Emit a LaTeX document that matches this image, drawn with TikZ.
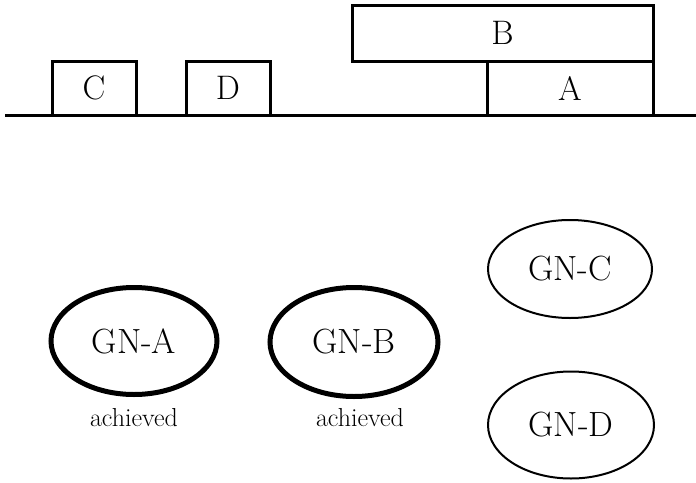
\documentclass[tikz,border=0pt]{standalone}
\usepackage{fontspec}
\usetikzlibrary{shapes.geometric}
\begin{document}
\begin{tikzpicture}[x=1pt,y=-1pt,
  block/.style={draw, line width=3pt, inner sep=0pt, font=\fontsize{34}{38}\selectfont},
  goal/.style={draw, ellipse, inner sep=0pt, font=\fontsize{35}{40}\selectfont},
  done/.style={goal, line width=5pt},
  open/.style={goal, line width=2pt},
  note/.style={font=\fontsize{26}{30}\selectfont}]
\useasboundingbox (0,0) rectangle (696,482);
% table
\coordinate (gl) at (5,115);
\coordinate (gr) at (696,115);
\draw[line width=3pt] (gl) -- (gr);
% blocks
\node[block, minimum width=84pt, minimum height=54pt] (C) at (94,88) {C};
\node[block, minimum width=84pt, minimum height=54pt] (D) at (228,88) {D};
\node[block, minimum width=166pt, minimum height=54pt] (A) at (570,88) {A};
\node[block, minimum width=301pt, minimum height=56pt] (B) at (502.5,33) {B};
% goal nodes
\node[done, minimum width=166pt, minimum height=107pt] (gA) at (134,341) {GN-A};
\node[done, minimum width=168pt, minimum height=109pt] (gB) at (354,342) {GN-B};
\node[open, minimum width=164pt, minimum height=98pt] (gC) at (570,269) {GN-C};
\node[open, minimum width=166pt, minimum height=107pt] (gD) at (571,425) {GN-D};
\node[note] (lA) at (134,418) {achieved};
\node[note] (lB) at (360,418) {achieved};
\end{tikzpicture}
\end{document}
